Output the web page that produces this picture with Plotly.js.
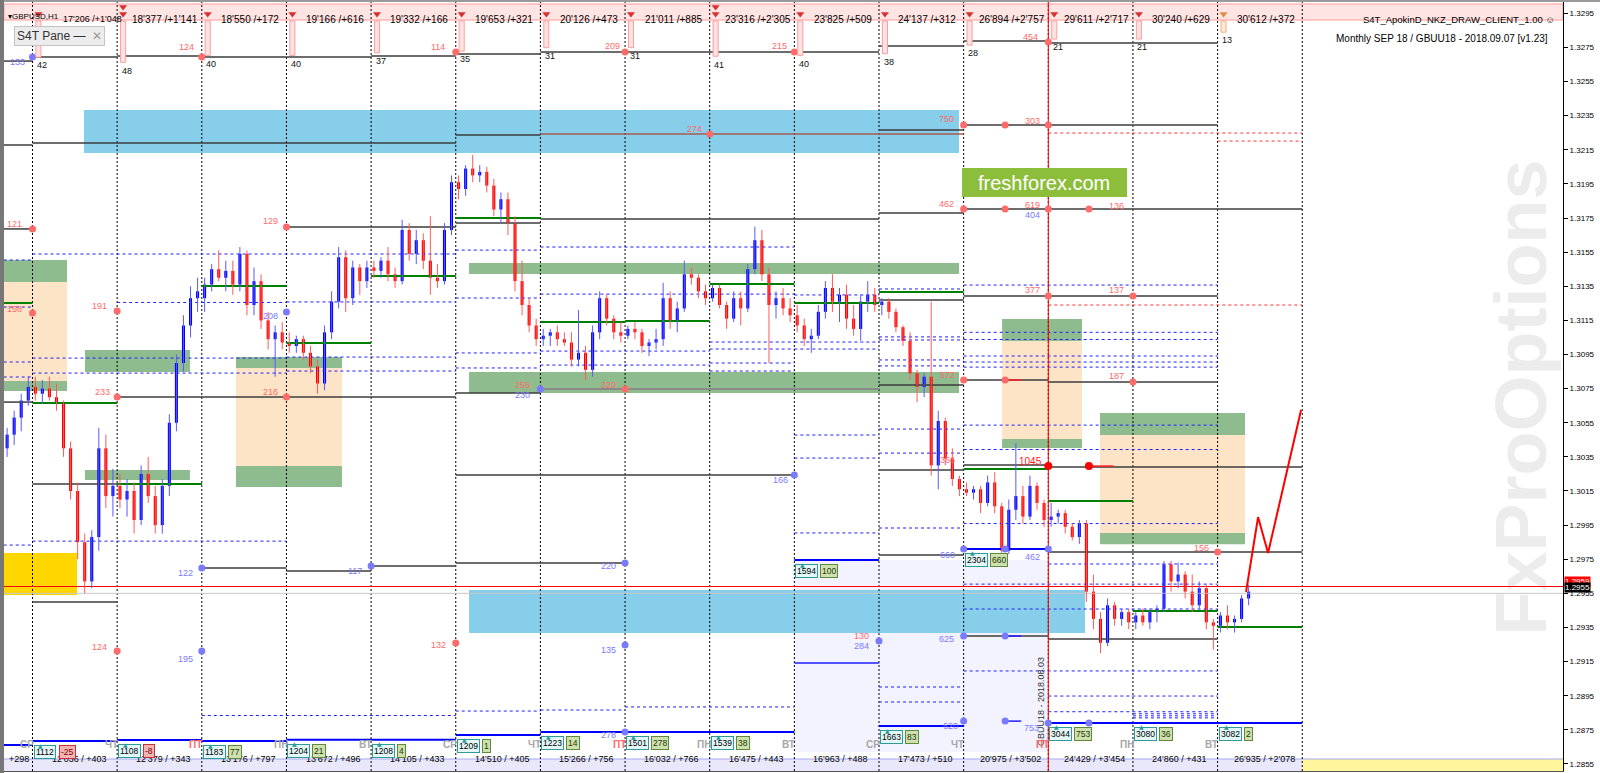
<!DOCTYPE html>
<html><head><meta charset="utf-8">
<script src="https://cdn.plot.ly/plotly-3.0.1.min.js"></script>
<style>html,body{margin:0;padding:0;background:#fff;overflow:hidden}#chart{width:1600px;height:773px}</style>
</head><body><div id="chart"></div>
<script>
// ---------------- DATA ----------------
// 2-hour candles, 12 per trading day; day k separator at x = k
const O = [1.3040,1.3048,1.3058,1.3068,
1.3076,1.3072,1.3075,1.3070,1.3066,1.3040,1.3015,1.2985,1.2962,1.2988,1.3040,1.3012,
1.3018,1.3010,1.3015,1.2998,1.3025,1.3012,1.2995,1.3018,1.3055,1.3090,1.3112,1.3128,
1.3128,1.3136,1.3145,1.3140,1.3144,1.3136,1.3154,1.3124,1.3138,1.3115,1.3104,1.3108,
1.3102,1.3100,1.3104,1.3096,1.3088,1.3078,1.3108,1.3126,1.3152,1.3128,1.3146,1.3138,
1.3146,1.3144,1.3150,1.3142,1.3138,1.3168,1.3154,1.3162,1.3150,1.3140,1.3138,1.3168,
1.3196,1.3192,1.3204,1.3200,1.3202,1.3194,1.3180,1.3186,1.3172,1.3138,1.3124,1.3112,
1.3104,1.3106,1.3108,1.3104,1.3102,1.3092,1.3096,1.3086,1.3108,1.3128,1.3116,1.3108,
1.3106,1.3110,1.3108,1.3100,1.3102,1.3104,1.3128,1.3114,1.3122,1.3142,1.3140,1.3132,
1.3128,1.3134,1.3124,1.3116,1.3128,1.3122,1.3145,1.3162,1.3142,1.3124,1.3128,1.3122,
1.3118,1.3112,1.3104,1.3106,1.3120,1.3134,1.3126,1.3130,1.3116,1.3110,1.3126,1.3130,
1.3124,1.3126,1.3120,1.3111,1.3103,1.3084,1.3076,1.3082,1.3030,1.3056,1.3034,1.3022,
1.3016,1.3014,1.3016,1.3008,1.3020,1.3006,1.2980,1.3004,1.3012,1.3000,1.3018,1.3008,
1.2998,1.3000,1.3002,1.2994,1.2988,1.2996,1.2956,1.2940,1.2926,1.2948,1.2940,1.2944,
1.2938,1.2942,1.2938,1.2944,1.2946,1.2972,1.2962,1.2966,1.2956,1.2948,1.2958,1.2938,
1.2936,1.2942,1.2938,1.2940,1.2952];
const H = [1.3052,1.3062,1.3072,1.3082,
1.3082,1.3080,1.3082,1.3078,1.3068,1.3044,1.3020,1.2990,1.2992,1.3052,1.3048,1.3028,
1.3025,1.3022,1.3020,1.3030,1.3035,1.3018,1.3022,1.3060,1.3095,1.3118,1.3135,1.3140,
1.3140,1.3148,1.3156,1.3150,1.3150,1.3158,1.3156,1.3146,1.3142,1.3120,1.3112,1.3114,
1.3108,1.3106,1.3106,1.3100,1.3092,1.3112,1.3132,1.3158,1.3156,1.3150,1.3148,1.3150,
1.3150,1.3152,1.3158,1.3146,1.3174,1.3172,1.3168,1.3166,1.3176,1.3148,1.3172,1.3200,
1.3200,1.3206,1.3212,1.3206,1.3205,1.3198,1.3190,1.3190,1.3176,1.3150,1.3128,1.3116,
1.3110,1.3110,1.3112,1.3108,1.3108,1.3121,1.3100,1.3112,1.3132,1.3130,1.3118,1.3114,
1.3112,1.3114,1.3110,1.3104,1.3110,1.3137,1.3132,1.3126,1.3150,1.3146,1.3142,1.3136,
1.3136,1.3136,1.3126,1.3132,1.3132,1.3148,1.3170,1.3168,1.3146,1.3132,1.3134,1.3128,
1.3124,1.3116,1.3110,1.3124,1.3138,1.3142,1.3134,1.3136,1.3124,1.3130,1.3138,1.3134,
1.3128,1.3128,1.3122,1.3112,1.3108,1.3086,1.3084,1.3126,1.3062,1.3058,1.3040,1.3024,
1.3020,1.3018,1.3018,1.3024,1.3026,1.3008,1.3010,1.3043,1.3018,1.3024,1.3020,1.3010,
1.3008,1.3004,1.3004,1.2996,1.2998,1.2998,1.2966,1.2944,1.2952,1.2950,1.2946,1.2946,
1.2944,1.2946,1.2946,1.2948,1.2974,1.2974,1.2973,1.2968,1.2966,1.2962,1.2960,1.2940,
1.2944,1.2948,1.2942,1.2954,1.2960];
const L = [1.3035,1.3042,1.3050,1.3065,
1.3068,1.3066,1.3068,1.3062,1.3035,1.3010,1.2975,1.2955,1.2958,1.2980,1.3005,1.3000,
1.3005,1.3000,1.2990,1.2995,1.3008,1.2990,1.2990,1.3012,1.3050,1.3085,1.3105,1.3120,
1.3120,1.3132,1.3138,1.3132,1.3130,1.3132,1.3118,1.3118,1.3110,1.3098,1.3082,1.3098,
1.3096,1.3096,1.3092,1.3084,1.3072,1.3074,1.3104,1.3122,1.3120,1.3124,1.3130,1.3134,
1.3140,1.3140,1.3138,1.3134,1.3136,1.3150,1.3148,1.3145,1.3130,1.3134,1.3136,1.3165,
1.3186,1.3188,1.3196,1.3196,1.3190,1.3176,1.3172,1.3165,1.3132,1.3118,1.3108,1.3100,
1.3100,1.3100,1.3100,1.3100,1.3088,1.3088,1.3080,1.3082,1.3104,1.3112,1.3104,1.3102,
1.3104,1.3104,1.3096,1.3094,1.3098,1.3100,1.3110,1.3108,1.3120,1.3136,1.3128,1.3124,
1.3126,1.3122,1.3110,1.3114,1.3112,1.3120,1.3142,1.3138,1.3090,1.3116,1.3118,1.3114,
1.3108,1.3100,1.3096,1.3104,1.3116,1.3120,1.3114,1.3110,1.3106,1.3103,1.3120,1.3120,
1.3118,1.3116,1.3108,1.3100,1.3080,1.3067,1.3070,1.3024,1.3016,1.3030,1.3018,1.3012,
1.3012,1.3010,1.3002,1.3006,1.3002,1.2976,1.2978,1.2998,1.2996,1.2998,1.3004,1.2994,
1.2994,1.2996,1.2990,1.2986,1.2984,1.2950,1.2934,1.2920,1.2924,1.2936,1.2936,1.2934,
1.2934,1.2936,1.2934,1.2938,1.2944,1.2956,1.2958,1.2952,1.2944,1.2946,1.2934,1.2922,
1.2932,1.2934,1.2932,1.2938,1.2948];
const C = [1.3048,1.3058,1.3068,1.3076,
1.3072,1.3075,1.3070,1.3066,1.3040,1.3015,1.2985,1.2962,1.2988,1.3040,1.3012,1.3018,
1.3010,1.3015,1.2998,1.3025,1.3012,1.2995,1.3018,1.3055,1.3090,1.3112,1.3128,1.3132,
1.3136,1.3145,1.3140,1.3144,1.3136,1.3154,1.3124,1.3138,1.3115,1.3104,1.3108,1.3102,
1.3100,1.3104,1.3096,1.3088,1.3078,1.3108,1.3126,1.3152,1.3128,1.3146,1.3138,1.3146,
1.3144,1.3150,1.3142,1.3138,1.3168,1.3154,1.3162,1.3150,1.3140,1.3138,1.3168,1.3196,
1.3192,1.3204,1.3200,1.3202,1.3194,1.3180,1.3186,1.3172,1.3138,1.3124,1.3112,1.3104,
1.3106,1.3108,1.3104,1.3102,1.3092,1.3096,1.3086,1.3108,1.3128,1.3116,1.3108,1.3106,
1.3110,1.3108,1.3100,1.3102,1.3104,1.3128,1.3114,1.3122,1.3142,1.3140,1.3132,1.3128,
1.3134,1.3124,1.3116,1.3128,1.3122,1.3145,1.3162,1.3142,1.3124,1.3128,1.3122,1.3118,
1.3112,1.3104,1.3106,1.3120,1.3134,1.3126,1.3130,1.3116,1.3110,1.3126,1.3130,1.3124,
1.3126,1.3120,1.3111,1.3103,1.3084,1.3076,1.3082,1.3030,1.3056,1.3034,1.3022,1.3016,
1.3014,1.3016,1.3008,1.3020,1.3006,1.2980,1.3004,1.3012,1.3000,1.3018,1.3008,1.2998,
1.3000,1.3002,1.2994,1.2988,1.2996,1.2956,1.2940,1.2926,1.2948,1.2940,1.2944,1.2938,
1.2942,1.2938,1.2944,1.2946,1.2972,1.2962,1.2966,1.2956,1.2948,1.2958,1.2938,1.2936,
1.2942,1.2938,1.2940,1.2952,1.2956];
const FIRST_BAR_DAY = -0.3, BARS_PER_DAY = 12;

const Y_TICKS = [1.2855,1.2875,1.2895,1.2915,1.2935,1.2955,1.2975,1.2995,1.3015,1.3035,1.3055,1.3075,1.3095,1.3115,1.3135,1.3155,1.3175,1.3195,1.3215,1.3235,1.3255,1.3275,1.3295];
const SEPARATORS = [0,1,2,3,4,5,6,7,8,9,10,11,12,13,14,15];
const DOW = ["СР","ЧТ","ПТ","ПН","ВТ","СР","ЧТ","ПТ","ПН","ВТ","СР","ЧТ","ПТ","ПН","ВТ"];
const TOP_TEXT = ["17'206 /+1'048","18'377 /+1'141","18'550 /+172","19'166 /+616","19'332 /+166","19'653 /+321","20'126 /+473","21'011 /+885","23'316 /+2'305","23'825 /+509","24'137 /+312","26'894 /+2'757","29'611 /+2'717","30'240 /+629","30'612 /+372"];
const BOTTOM_TEXT = ["12'036 / +403","12'379 / +343","13'176 / +797","13'672 / +496","14'105 / +433","14'510 / +405","15'266 / +756","16'032 / +766","16'475 / +443","16'963 / +488","17'473 / +510","20'975 / +3'502","24'429 / +3'454","24'860 / +431","26'935 / +2'078"];
const VOL_TOP = [42,48,40,40,37,35,31,31,41,40,38,28,21,21,13];
const BOX_VOL = [1112,1108,1183,1204,1208,1209,1223,1501,1539,1594,1663,2304,3044,3080,3082];
const BOX_DELTA = [-25,-8,77,21,4,1,14,278,38,100,83,660,753,36,2];
const DOUBLE_ARROW_DAYS = [1,8];

// horizontal level segments [fromDay, toDay, price]
const BLACK_LEVELS = [[-0.34,0,1.32670],[0,1,1.32694],[1,2,1.32700],[2,3,1.32694],[3,4,1.32694],[4,5,1.32700],[5,6,1.32711],[6,10,1.32723],[10,11,1.32758],[11,12,1.32788],[12,14,1.32776],
[-0.34,0,1.32178],[0,5,1.32190],[5,6,1.32237],[10,11,1.32266],[11,14,1.32295],
[-0.34,0,1.31686],[3,5,1.31697],[5,6,1.31721],[6,10,1.31744],[10,11,1.31779],[11,15,1.31803],
[10,11,1.31269],[11,14,1.31293],
[-0.34,0,1.30671],[1,5,1.30701],[5,6,1.30724],[10,11,1.30771],[11,12,1.30800],[12,14,1.30789],
[0,2,1.30191],[5,9,1.30244],[10,11,1.30273],[11,12,1.30302],[12,15,1.30290],
[2,3,1.29698],[3,4,1.29681],[4,5,1.29710],[5,7,1.29728],[10,11,1.29775],[12,15,1.29792],
[0,1,1.29499],[11,12,1.29300],[12,14,1.29282]];
const GRAY_LEVELS = [[6,10,1.30748]];
const BROWN_LEVELS = [[6,11,1.32242]];
const GREEN_LEVELS = [[-0.34,0,1.31252],[0,1,1.30666],[1,2,1.30191],[2,3,1.31351],[3,4,1.31017],[4,5,1.31410],[5,6,1.31750],[6,7,1.31140],[7,8,1.31146],[8,9,1.31363],[9,10,1.31252],[10,11,1.31316],[11,12,1.30279],[12,13,1.30091],[13,14,1.29446],[14,15,1.29352]];
const BLUE_DASHED = [[-0.34,0,1.31504],[-0.34,0,1.31228],[-0.34,0,1.30906],[-0.34,0,1.30818],[-0.34,0,1.29833],
[0,5,1.31539],[5,6,1.31562],[6,9,1.31580],
[1,3,1.31255],[3,5,1.31258],[5,6,1.31281],[6,9,1.31304],[9,10,1.31299],[10,11,1.31334],[11,14,1.31357],
[0,3,1.30929],[3,5,1.30935],[5,6,1.30959],[6,8,1.30970],[8,9,1.31023],[8,9,1.30982],
[0,3,1.30841],[3,5,1.30853],[5,6,1.30871],[6,8,1.30888],[8,9,1.30900],[8,9,1.30853],
[9,10,1.31023],[9,10,1.30982],[9,10,1.30478],[9,10,1.30343],[9,10,1.29904],
[10,11,1.31053],[10,11,1.31035],[10,11,1.30918],[10,11,1.30883],[10,11,1.30513],[10,11,1.30372],[10,11,1.29933],
[11,14,1.31080],[11,14,1.31038],[11,14,1.30941],[11,14,1.30906],[11,14,1.30876],[11,14,1.30536],[11,14,1.30393],[11,14,1.29959],[12,14,1.29722],[11,14,1.29604],[11,14,1.29458],
[0,3,1.29856],
[2,5,1.28834],[5,6,1.28860],[6,7,1.28866],[7,9,1.28884],[10,11,1.28913],[10,11,1.29001],[11,14,1.29095],[12,14,1.28948],[12,14,1.28856],[13,14,1.28844],[13,14,1.28832],[13,14,1.28820]];
const RED_DASHED = [[12,15,1.32248],[14,15,1.32201],[12,15,1.31240]];
const BLUE_THICK = [[-0.34,0,1.28661],[0,1,1.28684],[1,2,1.28690],[2,3,1.28684],[3,5,1.28692],[5,6,1.28719],[6,9,1.28737],[9,10,1.29745],[10,11,1.28772],[11,12,1.29810],[12,15,1.28790]];
const BLUE_THIN = [[9,10,1.29141],[11.49,11.68,1.29300],[11.49,11.68,1.28801]];
const RED_SHORT = [[12.48,12.77,1.30296],[11.49,11.68,1.30800]];
const PRICE_BID = 1.2955, PRICE_ASK = 1.2959;

// zones [fromDay, toDay, lowPrice, highPrice]
const BLUE_ZONES = [[0.608,10.945,1.32131,1.32383],[5.157,12.434,1.29318,1.29570]];
const GREEN_ZONES = [[-0.337,0.408,1.31375,1.31504],[-0.337,0.408,1.30736,1.30795],[0.62,1.86,1.30847,1.30976],[0.62,1.86,1.30214,1.30273],
[2.404,3.656,1.30871,1.30935],[2.404,3.656,1.30174,1.30297],[5.157,10.945,1.31422,1.31486],[5.157,10.945,1.30724,1.30847],
[11.454,12.398,1.31029,1.31158],[11.454,12.398,1.30402,1.30455],[12.611,14.324,1.30478,1.30607],[12.611,14.324,1.29838,1.29903]];
const PEACH_ZONES = [[-0.337,0.408,1.30795,1.31375],[2.404,3.656,1.30297,1.30871],[11.454,12.398,1.30455,1.31029],[12.611,14.324,1.29903,1.30478]];
const YELLOW_ZONES = [[-0.337,0.526,1.29540,1.29786]];
const LAVENDER_ZONES = [[9,12,1.28620,1.29745]];

// forecast zigzag
const FORECAST_X = [14.336,14.478,14.596,14.986];
const FORECAST_Y = [1.29558,1.29997,1.29786,1.30625];

// marks with numbers
const RED_DOTS = [[0,1.31686],[0,1.31193],[1,1.31205],[1,1.30701],[3,1.30701],[3,1.31697],[7,1.30748],[8,1.32242],[11,1.32295],[11.49,1.32295],[12,1.32295],[11,1.31803],[11.49,1.31803],[12,1.31803],[12.48,1.31803],[12,1.31293],[13,1.31293],[11,1.30800],[11.49,1.30800],[13,1.30789],[14,1.29792],[1,1.29212],[5,1.29259],[2,1.32694],[5,1.32723],[7,1.32723],[9,1.32723],[12,1.32782]];
const STRONG_RED_DOTS = [[12,1.30296],[12.48,1.30296]];
const BLUE_DOTS = [[0,1.32694],[3,1.31199],[6,1.30748],[9,1.30244],[2,1.29698],[4,1.29710],[7,1.29728],[2,1.29212],[7,1.29247],[10,1.29270],[11,1.29300],[11.49,1.29300],[11,1.29810],[11.49,1.29810],[12,1.29810],[7,1.28737],[11,1.28801],[11.49,1.28801],[12,1.28790],[12.48,1.28790]];
const RED_LABELS = [["124",1.825,1.32752],["114",4.79,1.32752],["209",6.846,1.32758],["215",8.819,1.32758],["454",11.795,1.32811],
["121",-0.207,1.31715],["158",-0.207,1.31217],["191",0.786,1.31234],["233",0.821,1.30730],["216",2.806,1.30730],["129",2.806,1.31732],
["255",5.794,1.30771],["320",6.810,1.30771],["274",7.815,1.32272],["750",10.803,1.32330],["303",11.819,1.32318],
["462",10.803,1.31832],["619",11.819,1.31826],["136",12.811,1.31820],["377",11.819,1.31328],["137",12.811,1.31328],
["572",10.815,1.30830],["187",12.811,1.30824],["366",10.815,1.30331],["156",13.815,1.29816],
["124",0.786,1.29235],["132",4.802,1.29247],["130",9.799,1.29300]];
const BLUE_LABELS = [["133",-0.183,1.32665],["208",2.806,1.31176],["230",5.794,1.30712],["166",8.842,1.30214],["122",1.813,1.29669],["117",3.810,1.29681],["220",6.810,1.29710],["195",1.813,1.29165],["135",6.810,1.29218],["284",9.799,1.29241],["625",10.803,1.29282],["660",10.815,1.29775],["462",11.819,1.29763],["404",11.819,1.31768],["278",6.810,1.28719],["620",10.839,1.28772],["753",11.807,1.28761]];

// ---------------- BUILD ----------------
const Y_MIN = 1.285086, Y_MAX = 1.330162, X_MIN = -0.3367, X_MAX = 18.0803;
const FONT = 'Liberation Sans, Arial, sans-serif';
const T = O.map((_, i) => FIRST_BAR_DAY + i / BARS_PER_DAY);
const traces = [];
function seg(list, color, width, dash) {
  const x = [], y = [];
  list.forEach(([a, b, p]) => { x.push(a, b, null); y.push(p, p, null); });
  return {type:'scatter', mode:'lines', x, y, line:{color, width, dash:dash || 'solid'}, hoverinfo:'skip', showlegend:false};
}
(function(){
  const x = [], y = [];
  SEPARATORS.forEach(k => { x.push(k, k, null); y.push(Y_MIN, Y_MAX, null); });
  traces.push({type:'scatter', mode:'lines', x, y, line:{color:'#000', width:1, dash:'2px,2px'}, hoverinfo:'skip'});
})();
traces.push(seg(BLUE_DASHED, '#1f1fff', 1, '3px,3px'));
traces.push(seg(RED_DASHED, '#ff3030', 1, '3px,3px'));
traces.push(seg(BLACK_LEVELS, '#3c3c3c', 1.5));
traces.push(seg(GRAY_LEVELS, '#8a8a8a', 2));
traces.push(seg(BROWN_LEVELS, '#a85a50', 1.5));
traces.push(seg(GREEN_LEVELS, '#008000', 2));
traces.push(seg(BLUE_THICK, '#0000ff', 2));
traces.push(seg(BLUE_THIN, '#2020ff', 1.5));
traces.push(seg(RED_SHORT, '#ff2020', 1.5));
traces.push(seg([[X_MIN, X_MAX, PRICE_BID]], '#c8c8c8', 1));
traces.push(seg([[X_MIN, X_MAX, PRICE_ASK]], '#ff0000', 1));
traces.push({type:'scatter', mode:'lines', x:[12,12], y:[Y_MIN, Y_MAX], line:{color:'#ff0000', width:1}, hoverinfo:'skip'});

function wicks(filter, color) {
  const x = [], y = [];
  T.forEach((t, i) => { if (filter(i)) { x.push(t, t, null); y.push(L[i], H[i], null); } });
  return {type:'scatter', mode:'lines', x, y, line:{color, width:1}, hoverinfo:'skip'};
}
traces.push(wicks(i => C[i] > O[i], '#5a5aff'));
traces.push(wicks(i => C[i] < O[i], '#ff5a5a'));
traces.push(wicks(i => C[i] === O[i], '#000000'));
traces.push({type:'bar', x:T, base:O.map((o, i) => Math.min(o, C[i])),
  y:O.map((o, i) => Math.max(Math.abs(C[i] - o), 0.00004)), width:0.036,
  marker:{color:C.map((c, i) => c > O[i] ? '#0000ff' : (c < O[i] ? '#ff0000' : '#000000')), line:{width:0}},
  hoverinfo:'skip'});
traces.push({type:'scatter', mode:'lines', x:FORECAST_X, y:FORECAST_Y, line:{color:'#ff0000', width:2}, hoverinfo:'skip'});
function dots(list, color, size) {
  return {type:'scatter', mode:'markers', x:list.map(d => d[0]), y:list.map(d => d[1]), marker:{color, size, line:{width:0}}, hoverinfo:'skip'};
}
traces.push(dots(RED_DOTS, '#ff6a6a', 7));
traces.push(dots(STRONG_RED_DOTS, '#ff0000', 8));
traces.push(dots(BLUE_DOTS, '#7a7aff', 7));
const DAY_IDX = SEPARATORS.slice(0, 15);
traces.push({type:'bar', yaxis:'y2', x:DAY_IDX.map(k => k + 0.07), y:VOL_TOP, base:0, width:0.06,
  marker:{color:DAY_IDX.map(k => k === 14 ? '#ffe9d8' : '#ffe2e2'), line:{color:DAY_IDX.map(k => k === 14 ? '#f0b080' : '#ff9e9e'), width:1}}, hoverinfo:'skip'});
(function(){
  const x = [], y = [], col = [];
  DAY_IDX.forEach(k => {
    const c = k === 14 ? '#e08c3c' : '#d83030';
    x.push(k + 0.07); y.push(-8.1); col.push(c);
    if (DOUBLE_ARROW_DAYS.includes(k)) { x.push(k + 0.07); y.push(-16.3); col.push(c); }
  });
  traces.push({type:'scatter', mode:'markers', yaxis:'y2', x, y, marker:{symbol:'triangle-down', size:7, color:col, line:{width:0}}, hoverinfo:'skip'});
})();

// ---------------- SHAPES ----------------
const shapes = [];
const pY = py => (771 - py) / 769;
function zones(list, color, layer) {
  list.forEach(([a, b, lo, hi]) => shapes.push({type:'rect', xref:'x', yref:'y', x0:a, x1:b, y0:lo, y1:hi, fillcolor:color, line:{width:0}, layer:layer || 'below'}));
}
shapes.push({type:'rect', xref:'x', yref:'paper', x0:17.0, x1:18.0, y0:pY(650), y1:pY(145), line:{width:0}, fillcolor:'rgba(0,0,0,0)', layer:'below',
  label:{text:'FxProOptions', textangle:-90, textposition:'middle center', font:{family:FONT, size:72, color:'#ececec', weight:'bold'}}});
zones(LAVENDER_ZONES, 'rgba(228,228,255,0.45)');
zones(BLUE_ZONES, '#87ceeb');
zones(PEACH_ZONES, '#fde4c6');
zones(GREEN_ZONES, '#8fbc8f');
zones(YELLOW_ZONES, '#ffd700');
shapes.push({type:'rect', xref:'paper', yref:'paper', x0:0, x1:1, y0:pY(20), y1:pY(4), fillcolor:'#ffe4e4', line:{color:'#ff9a9a', width:1}, layer:'below'});
shapes.push({type:'rect', xref:'x', yref:'paper', x0:X_MIN, x1:15, y0:0, y1:pY(759), fillcolor:'#e8e8fa', line:{width:0}, layer:'below'});
shapes.push({type:'rect', xref:'x', yref:'paper', x0:15, x1:X_MAX, y0:0, y1:pY(759), fillcolor:'#fff59c', line:{width:0}, layer:'below'});
shapes.push({type:'line', xref:'paper', yref:'paper', x0:0, x1:1, y0:pY(759), y1:pY(759), line:{color:'#a8a8f0', width:1}, layer:'below'});
shapes.push({type:'rect', xref:'paper', yref:'paper', x0:-0.003, x1:1.024, y0:1, y1:1.0027, fillcolor:'#9a9a9a', line:{width:0}});
shapes.push({type:'rect', xref:'paper', yref:'paper', x0:-0.0026, x1:0, y0:-0.003, y1:1.0027, fillcolor:'#777', line:{width:0}});
shapes.push({type:'rect', xref:'x', yref:'y', x0:10.981, x1:12.930, y0:1.31873, y1:1.32043, fillcolor:'#8cbe3c', line:{width:0}, layer:'above'});

// ---------------- ANNOTATIONS ----------------
const anns = [];
function txt(text, x, y, o) {
  return Object.assign({text, x, y, xref:'x', yref:'y', showarrow:false, font:{family:FONT, size:9, color:'#000'}}, o || {});
}
TOP_TEXT.forEach((t, k) => anns.push(txt(t, k + (k === 0 ? 0.71 : 0.57), pY(12), {yref:'paper', font:{family:FONT, size:(k === 0 ? 9 : 10), color:'#000'}})));
anns.push(txt('▾GBPUSD,H1', 0.002, pY(11), {xref:'paper', yref:'paper', xanchor:'left', borderpad:0, font:{family:FONT, size:8, color:'#000'}}));
anns.push(txt('S4T_ApokinD_NKZ_DRAW_CLIENT_1.00 ☺', 0.9962, pY(12), {xref:'paper', yref:'paper', xanchor:'right', font:{family:FONT, size:9.5, color:'#000'}}));
anns.push(txt('Monthly SEP 18 / GBUU18 - 2018.09.07 [v1.23]', 0.9917, pY(31), {xref:'paper', yref:'paper', xanchor:'right', font:{family:FONT, size:10, color:'#000'}}));
anns.push(txt('S4T Pane &#8212;  <span style="color:#999">✕</span>', 0.0064, pY(26), {xref:'paper', yref:'paper', xanchor:'left', bgcolor:'#ececec', bordercolor:'#c4c4c4', borderwidth:1, borderpad:2, font:{family:FONT, size:12, color:'#333'}}));
VOL_TOP.forEach((v, k) => anns.push(txt(String(v), k + 0.03, v + 1.5, {yref:'y2', xanchor:'left', yanchor:'top', font:{family:FONT, size:9, color:'#111'}})));
RED_LABELS.forEach(([t, x, y]) => anns.push(txt(t, x, y, {font:{family:FONT, size:9, color:'#ff6a6a'}})));
BLUE_LABELS.forEach(([t, x, y]) => anns.push(txt(t, x, y, {font:{family:FONT, size:9, color:'#7a7aff'}})));
anns.push(txt('1045', 11.784, 1.30320, {font:{family:FONT, size:10, color:'#ff2020'}}));
anns.push(txt('GBUU18 - 2018.08.03', 11.914, 1.28913, {textangle:-90, font:{family:FONT, size:9, color:'#333'}}));
anns.push(txt('freshforex.com', 11.955, 1.31958, {font:{family:FONT, size:20, color:'#ffffff'}}));
DOW.forEach((d, k) => anns.push(txt('<b>' + d + '</b>', k - 0.07, pY(752), {yref:'paper', font:{family:FONT, size:10, color:(d === 'ПТ' ? '#ff6a6a' : '#a8a8a8')}})));
BOTTOM_TEXT.forEach((t, k) => anns.push(txt(t, k + 0.55, pY(766), {yref:'paper', font:{family:FONT, size:9, color:'#000'}})));
anns.push(txt('+298', 0.002, pY(766), {xref:'paper', yref:'paper', xanchor:'left', font:{family:FONT, size:9, color:'#000'}}));
function levelAt(d) { const s = BLUE_THICK.find(([a, b]) => d >= a && d < b); return s ? s[2] : BLUE_THICK[BLUE_THICK.length - 1][2]; }
BOX_VOL.forEach((v, k) => {
  const lp = levelAt(k + 0.5);
  const t1 = String(v), t2 = String(BOX_DELTA[k]), neg = BOX_DELTA[k] < 0;
  const w1 = t1.length * 4.75 + 5;
  anns.push(txt(t1, k, lp, {xanchor:'left', yanchor:'middle', xshift:1, yshift:-11, bgcolor:'#e4f8f8', bordercolor:'#2e9b9b', borderwidth:1, borderpad:1, font:{family:FONT, size:8.5, color:'#000'}}));
  anns.push(txt(t2, k, lp, {xanchor:'left', yanchor:'middle', xshift:2 + w1, yshift:-11, bgcolor:neg ? '#f4b4b4' : '#cfe0b0', bordercolor:neg ? '#c83232' : '#5f8a3a', borderwidth:1, borderpad:1, font:{family:FONT, size:8.5, color:neg ? '#7a0000' : '#1c3a00'}}));
  anns.push(txt('▲', k + 0.1, lp, {yshift:-4, font:{family:'DejaVu Sans', size:6, color:'#2e9b9b'}}));
});
anns.push(txt('1.2959', 1, PRICE_ASK, {xref:'paper', xanchor:'left', yanchor:'bottom', xshift:1, bgcolor:'#ff0000', borderpad:0, font:{family:FONT, size:8, color:'#fff'}}));
anns.push(txt('1.2955', 1, PRICE_BID, {xref:'paper', xanchor:'left', yanchor:'bottom', xshift:1, bgcolor:'#000000', borderpad:0, font:{family:FONT, size:8, color:'#fff'}}));

const layout = {
  width:1600, height:773, margin:{l:4, r:37, t:2, b:2},
  paper_bgcolor:'#ffffff', plot_bgcolor:'#ffffff', showlegend:false, hovermode:false,
  barmode:'overlay', font:{family:FONT},
  xaxis:{range:[X_MIN, X_MAX], showgrid:false, zeroline:false, showticklabels:false, ticks:'', showline:true, mirror:true, linecolor:'#555', linewidth:1, fixedrange:true},
  yaxis:{range:[Y_MIN, Y_MAX], side:'right', showgrid:false, zeroline:false, tickmode:'array', tickvals:Y_TICKS, ticktext:Y_TICKS.map(v => v.toFixed(4)),
    ticks:'outside', ticklen:4, tickcolor:'#000', tickfont:{family:FONT, size:8, color:'#000'}, showline:true, mirror:true, linecolor:'#000', linewidth:1, fixedrange:true},
  yaxis2:{overlaying:'y', range:[872.1, -22.09], visible:false, fixedrange:true},
  shapes, annotations:anns
};
Plotly.newPlot('chart', traces, layout, {staticPlot:true, displayModeBar:false});
</script></body></html>
